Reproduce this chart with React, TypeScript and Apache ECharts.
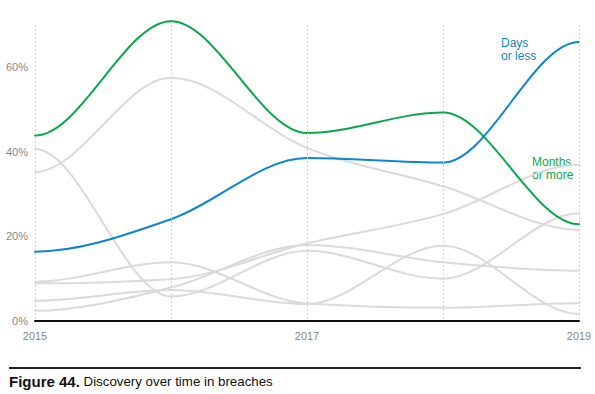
import React, { useEffect, useRef } from "react";
import * as echarts from "echarts";

const years = ["2015", "2016", "2017", "2018", "2019"];
const daysOrLess = [16.3, 24.0, 38.5, 37.4, 66.0];
const monthsOrMore = [43.8, 70.9, 44.4, 49.3, 22.8];
const gray1 = [35.2, 57.5, 40.9, 31.8, 21.5];
const gray2 = [40.6, 5.7, 16.5, 9.9, 25.4];
const gray3 = [8.8, 9.8, 18.3, 25.2, 36.9];
const gray4 = [9.2, 13.8, 4.0, 3.0, 4.1];
const gray5 = [2.3, 7.8, 17.9, 13.8, 11.8];
const gray6 = [4.7, 7.2, 3.9, 17.7, 1.5];
const grayLines = [gray1, gray2, gray3, gray4, gray5, gray6];

const FONT = "'Liberation Sans', Arial, sans-serif";
const BLUE = "#0c86d1";
const GREEN = "#0aa74a";
const GRAY = "#dadada";

// Curve tangents (flat at ends and at local extremes) used only to shape the drawn curve.
function tangents(ys: number[]): number[] {
  const n = ys.length;
  return ys.map((y, i) => {
    if (i === 0 || i === n - 1) return 0;
    const s0 = y - ys[i - 1];
    const s1 = ys[i + 1] - y;
    if (s0 * s1 <= 0) return 0;
    const p = (s0 + s1) / 2;
    return Math.sign(s0) * Math.min(2 * Math.abs(s0), 2 * Math.abs(s1), Math.abs(p));
  });
}

function segments(ys: number[]) {
  const m = tangents(ys);
  return ys.slice(0, -1).map((y, i) => [i, y, ys[i + 1], m[i], m[i + 1]]);
}

function curveSeries(name: string, ys: number[], color: string, z: number) {
  return {
    name,
    type: "custom",
    z,
    silent: true,
    clip: false,
    encode: { x: 0, y: [1, 2] },
    data: segments(ys),
    renderItem: (_params: any, api: any) => {
      const i = api.value(0);
      const p0 = api.coord([i, api.value(1)]);
      const p1 = api.coord([i + 1, api.value(2)]);
      const unit = api.coord([i, 1])[1] - api.coord([i, 0])[1];
      const dx = (p1[0] - p0[0]) / 3;
      return {
        type: "bezierCurve",
        shape: {
          x1: p0[0],
          y1: p0[1],
          x2: p1[0],
          y2: p1[1],
          cpx1: p0[0] + dx,
          cpy1: p0[1] + (api.value(3) * unit) / 3,
          cpx2: p1[0] - dx,
          cpy2: p1[1] - (api.value(4) * unit) / 3,
        },
        style: { stroke: color, lineWidth: 2, fill: "none", lineCap: "round" },
      };
    },
  };
}

export default function App() {
  const ref = useRef<HTMLDivElement>(null);
  useEffect(() => {
    if (!ref.current) return;
    const chart = echarts.init(ref.current, null, { renderer: "svg" });
    chart.setOption({
      animation: false,
      textStyle: { fontFamily: FONT },
      grid: { left: 35, right: 16, top: 25, bottom: 73.5, containLabel: false },
      xAxis: {
        type: "category",
        data: years,
        boundaryGap: false,
        axisLine: { show: true, onZero: false, lineStyle: { color: "#111", width: 2 } },
        axisTick: { show: false },
        z: 5,
        axisLabel: {
          interval: 1,
          color: "#888888",
          fontSize: 11,
          fontFamily: FONT,
          margin: 10,
        },
        splitLine: {
          show: true,
          interval: 0,
          lineStyle: { color: "#d4d4d4", type: [2, 2], width: 1 },
        },
      },
      yAxis: {
        type: "value",
        min: 0,
        max: 70,
        interval: 20,
        axisLine: { show: false },
        axisTick: { show: false },
        splitLine: { show: false },
        axisLabel: {
          showMaxLabel: false,
          formatter: (v: number) => (v % 20 === 0 ? v + "%" : ""),
          color: "#888888",
          fontSize: 11,
          fontFamily: FONT,
          margin: 7,
        },
      },
      series: [
        ...grayLines.map((g, k) => curveSeries("Other " + (k + 1), g, GRAY, 1)),
        curveSeries("Days or less", daysOrLess, BLUE, 3),
        curveSeries("Months or more", monthsOrMore, GREEN, 3),
      ],
      graphic: [
        {
          type: "text",
          left: 501,
          top: 36,
          style: {
            text: "Days\nor less",
            fill: BLUE,
            font: `12px ${FONT}`,
            lineHeight: 13,
          },
        },
        {
          type: "text",
          left: 532,
          top: 155,
          style: {
            text: "Months\nor more",
            fill: GREEN,
            font: `12px ${FONT}`,
            lineHeight: 13,
          },
        },
        {
          type: "line",
          shape: { x1: 9, y1: 368, x2: 581, y2: 368 },
          style: { stroke: "#222", lineWidth: 2 },
        },
        {
          type: "text",
          left: 9,
          top: 374,
          style: {
            text: "{b|Figure 44.} Discovery over time in breaches",
            fill: "#111",
            font: `13.3px ${FONT}`,
            rich: {
              b: { fontWeight: "bold", fontSize: 15, fontFamily: FONT, fill: "#111" },
            },
          },
        },
      ],
    });
    return () => chart.dispose();
  }, []);
  return (
    <div
      ref={ref}
      style={{ position: "fixed", left: 0, top: 0, width: 595, height: 394, background: "#fff" }}
    />
  );
}
